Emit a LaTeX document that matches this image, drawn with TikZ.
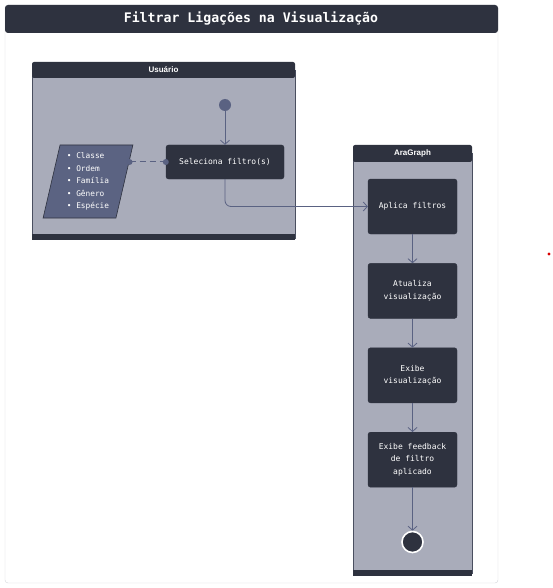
\documentclass[tikz,border=0pt]{standalone}
\usepackage{fontspec}
\setmonofont{DejaVu Sans Mono}
\setsansfont{Liberation Sans}
\usetikzlibrary{arrows.meta,positioning,shapes.geometric}
\definecolor{LaneInk}{HTML}{2E323F}
\definecolor{LaneBg}{HTML}{A9ACBA}
\definecolor{LaneRule}{HTML}{4A4F60}
\definecolor{FlowLine}{HTML}{5A6282}
\definecolor{ListBg}{HTML}{5B6382}
\definecolor{FrameRule}{HTML}{D4D6DB}
\begin{document}
\begin{tikzpicture}[x=1pt, y=-1pt, node distance=29pt,
  act/.style={rounded corners=2.5pt, fill=LaneInk, draw=LaneInk,
              minimum width=89pt, minimum height=55pt, align=center,
              font=\ttfamily\fontsize{8}{12.5}\selectfont, text=white},
  flow/.style={-{Straight Barb[length=4pt,width=9pt]}, FlowLine, line width=0.8pt},
  lanehead/.style={fill=LaneInk, rounded corners=2pt,
              font=\sffamily\bfseries\fontsize{7.8}{9}\selectfont, text=white},
  lanebody/.style={fill=LaneBg, draw=LaneRule, line width=0.5pt}]
  \useasboundingbox (0,0) rectangle (553,588);
  % frame and title
  \draw[FrameRule, fill=white, rounded corners=3pt] (5,5) rectangle (498,583);
  \fill[LaneInk, rounded corners=3pt] (5,5) rectangle (498,33);
  \node[font=\ttfamily\bfseries\fontsize{13.2}{15}\selectfont, text=white] (title) at (251,19)
       {Filtrar Ligações na Visualização};
  % lane Usuário
  \draw[lanebody] (32,70) rectangle (295,238);
  \fill[lanehead] (32,62) rectangle (295,78);
  \fill[LaneInk] (32,234) rectangle (295,240);
  \node[text=white, font=\sffamily\bfseries\fontsize{8}{9}\selectfont] (usr) at (163.5,70) {Usuário};
  % lane AraGraph
  \draw[lanebody] (353,153) rectangle (472,573);
  \fill[lanehead] (353,145) rectangle (472,162);
  \fill[LaneInk] (353,570) rectangle (472,576);
  \node[text=white, font=\sffamily\bfseries\fontsize{8}{9}\selectfont] (ara) at (412.5,153.5) {AraGraph};
  % user actions
  \node[circle, fill=FlowLine, minimum size=12pt, inner sep=0pt] (start) at (225,105) {};
  \node[act, minimum width=118pt, minimum height=34pt] (sel) at (225,162) {Seleciona filtro(s)};
  \node[trapezium, trapezium left angle=77, trapezium right angle=103, trapezium stretches=true,
        minimum width=90pt, minimum height=73pt, fill=ListBg, draw=LaneInk, line width=0.6pt,
        text=white, align=left, font=\ttfamily\fontsize{7.8}{12.5}\selectfont] (opts) at (88,181.5)
       {• Classe\\• Ordem\\• Família\\• Gênero\\• Espécie};
  \coordinate (optsR) at (129.5,162);
  \draw[FlowLine, line width=1pt, dash pattern=on 6pt off 4pt] (optsR) -- (sel.west);
  \fill[FlowLine] (optsR) circle (3pt) (sel.west) circle (3pt);
  \draw[flow] (start) -- (sel);
  % system actions
  \node[act] (apl) at (412.5,206.5) {Aplica filtros};
  \node[act, below=of apl] (atu) {Atualiza\\visualização};
  \node[act, below=of atu] (exb) {Exibe\\visualização};
  \node[act, below=of exb] (fdb) {Exibe feedback\\de filtro\\aplicado};
  \node[circle, draw=white, fill=LaneInk, line width=1.6pt, minimum size=21pt, inner sep=0pt] (fim) at (412.5,542) {};
  \draw[flow, rounded corners=6pt] (sel.south) |- (apl.west);
  \draw[flow] (apl) -- (atu);
  \draw[flow] (atu) -- (exb);
  \draw[flow] (exb) -- (fdb);
  \draw[flow] (fdb) -- (fim);
  \fill[red!85!black] (549,254) circle (1.6pt);
\end{tikzpicture}
\end{document}
